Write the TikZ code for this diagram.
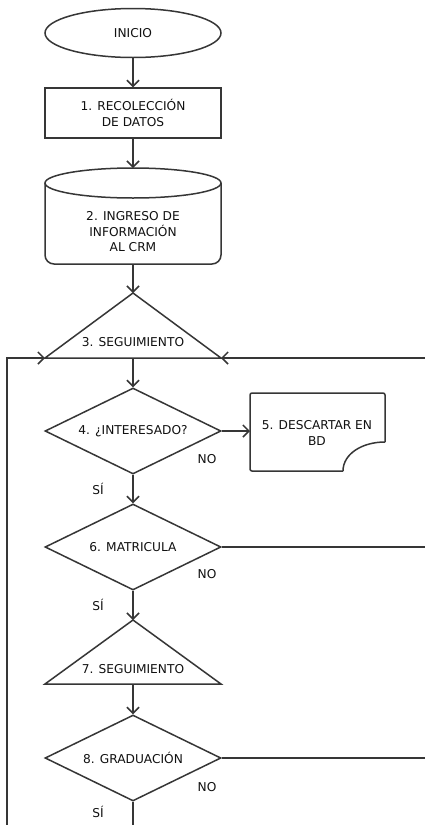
\documentclass[tikz,border=0pt]{standalone}
\usepackage{fontspec}
\setmainfont{DejaVu Sans}
\usetikzlibrary{arrows.meta,shapes.geometric}
\definecolor{lc}{HTML}{363636}
\definecolor{tc}{HTML}{111111}
\begin{document}
\begin{tikzpicture}[x=1pt,y=-1pt,
  line/.style={draw=lc,line width=1.5pt},
  arr/.style={line,-{Straight Barb[length=6pt,width=12pt,line width=1.5pt]}},
  txt/.style={font=\fontsize{12.2}{15.5}\selectfont,text=tc,align=center,inner sep=0pt},
  shp/.style={line,txt},
  dia/.style={shp,diamond,minimum width=176pt,minimum height=86pt,aspect=2},
]
\useasboundingbox (0,0) rectangle (425,825);
\fill[white] (0,0) rectangle (425,825);

% INICIO
\node[shp,ellipse,minimum width=176pt,minimum height=49pt] (inicio) at (133,33) {INICIO};

% 1
\node[shp,rectangle,minimum width=176pt,minimum height=50pt] (b1) at (133,113) {1. RECOLECCIÓN\\DE DATOS};

% 2 cylinder
\coordinate (cyltop) at (133,168);
\coordinate (cylbot) at (133,264);
\draw[line,rounded corners=9pt] (45,183) -- (45,264) -- (221,264) -- (221,183);
\draw[line] (133,183) ellipse [x radius=88pt, y radius=15pt];
\node[txt] (b2) at (133,232) {2. INGRESO DE\\INFORMACIÓN\\AL CRM};

% 3 triangle
\coordinate (t3a) at (133,293);
\coordinate (t3l) at (45,358);
\coordinate (t3r) at (221,358);
\coordinate (t3b) at (133,358);
\draw[line,line join=miter] (t3a) -- (t3r) -- (t3l) -- cycle;
\node[txt] (b3) at (133,342) {3. SEGUIMIENTO};

% 4 diamond
\node[dia] (d4) at (133,431) {4. ¿INTERESADO?};

% 5 document
\coordinate (doc) at (250,431);
\draw[line,rounded corners=2pt] (343,471) -- (250,471) -- (250,393) -- (385,393) -- (385,442);
\draw[line] (385,442) .. controls (362,442) and (343,454) .. (343,471);
\node[txt] (b5) at (317,433) {5. DESCARTAR EN\\BD};

% 6 diamond
\node[dia] (d6) at (133,547) {6. MATRICULA};

% 7 triangle
\coordinate (t7a) at (133,620);
\coordinate (t7l) at (45,684);
\coordinate (t7r) at (221,684);
\coordinate (t7b) at (133,684);
\draw[line,line join=miter] (t7a) -- (t7r) -- (t7l) -- cycle;
\node[txt] (b7) at (133,669) {7. SEGUIMIENTO};

% 8 diamond
\node[dia] (d8) at (133,758) {8. GRADUACIÓN};

% labels
\node[txt] (no4) at (207,459) {NO};
\node[txt] (si4) at (98,489) {SÍ};
\node[txt] (no6) at (207,574) {NO};
\node[txt] (si6) at (98,605) {SÍ};
\node[txt] (no8) at (207,787) {NO};
\node[txt] (si8) at (98,812) {SÍ};

% edge coordinates
\coordinate (rin) at (425,358);
\coordinate (r6) at (425,547);
\coordinate (r8) at (425,758);
\coordinate (lbot) at (7,825);
\coordinate (lcorner) at (7,358);
\coordinate (bot8) at (133,825);

% connectors
\draw[arr] (inicio.south) -- (b1.north);
\draw[arr] (b1.south) -- (cyltop);
\draw[arr] (cylbot) -- (t3a);
\draw[arr] (t3b) -- (d4.north);
\draw[arr] (d4.east) -- (doc);
\draw[arr] (d4.south) -- (d6.north);
\draw[arr] (d6.south) -- (t7a);
\draw[arr] (t7b) -- (d8.north);
\draw[line] (d8.south) -- (bot8);
\draw[line] (d6.east) -- (r6);
\draw[line] (d8.east) -- (r8);
\draw[arr] (rin) -- (t3r);
\draw[arr] (lbot) -- (lcorner) -- (t3l);
\end{tikzpicture}
\end{document}
